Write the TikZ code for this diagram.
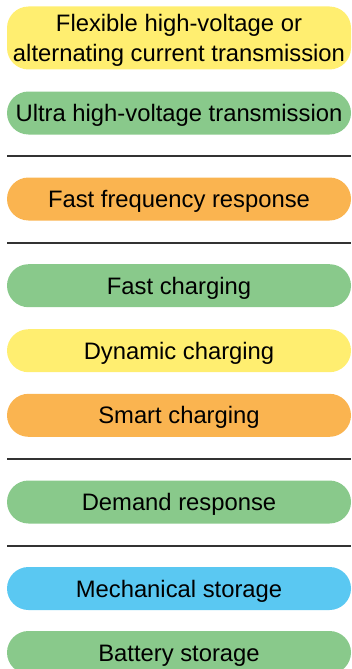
\documentclass[tikz,border=0pt]{standalone}
\usepackage{fontspec}
\setmainfont{Liberation Sans}
\definecolor{pyellow}{RGB}{255,238,112}
\definecolor{pgreen}{RGB}{137,201,139}
\definecolor{porange}{RGB}{250,180,80}
\definecolor{pblue}{RGB}{90,200,242}
\definecolor{rulecol}{RGB}{50,50,50}
\begin{document}
\begin{tikzpicture}[x=1pt,y=-1pt,
  pill/.style={rectangle, rounded corners=21.5pt, minimum width=344pt, minimum height=43pt,
    inner sep=0pt, font=\fontsize{23.8}{29.5}\selectfont, text height=17pt, text depth=0pt, text=black},
  sep/.style={draw=rulecol, line width=2pt}]
\useasboundingbox (0,0) rectangle (351,669);
\node[pill, fill=pyellow, minimum height=63pt, align=center, text height=46.5pt, text depth=0pt] (flex) at (179,38) {Flexible high-voltage or\\alternating current transmission};
\node[pill, fill=pgreen] (ultra) at (179,113) {Ultra high-voltage transmission};
\coordinate (s1l) at (7,156); \coordinate (s1r) at (351,156);
\draw[sep] (s1l) -- (s1r);
\node[pill, fill=porange] (freq) at (179,199) {Fast frequency response};
\coordinate (s2l) at (7,243); \coordinate (s2r) at (351,243);
\draw[sep] (s2l) -- (s2r);
\node[pill, fill=pgreen] (fast) at (179,285.7) {Fast charging};
\node[pill, fill=pyellow] (dyn) at (179,350.7) {Dynamic charging};
\node[pill, fill=porange] (smart) at (179,415.3) {Smart charging};
\coordinate (s3l) at (7,459); \coordinate (s3r) at (351,459);
\draw[sep] (s3l) -- (s3r);
\node[pill, fill=pgreen] (demand) at (179,502) {Demand response};
\coordinate (s4l) at (7,545.5); \coordinate (s4r) at (351,545.5);
\draw[sep] (s4l) -- (s4r);
\node[pill, fill=pblue] (mech) at (179,588.5) {Mechanical storage};
\node[pill, fill=pgreen] (batt) at (179,652.5) {Battery storage};
\end{tikzpicture}
\end{document}
